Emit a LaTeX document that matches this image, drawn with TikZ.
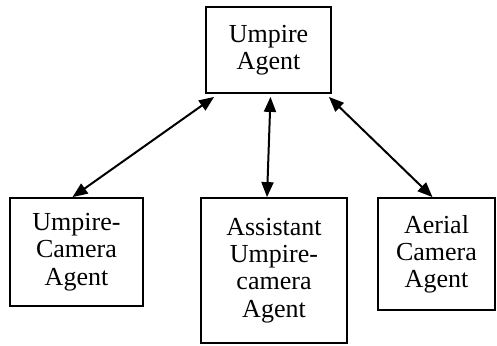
\documentclass[tikz,border=0pt]{standalone}
\usepackage{fontspec}
\setmainfont{Liberation Serif}
\usepackage{tikz}
\usetikzlibrary{arrows.meta,positioning}

\begin{document}
\begin{tikzpicture}[
  x=0.5pt, y=-0.5pt,
  box/.style={draw=black, line width=0.9pt, fill=white, align=center, inner sep=0pt,
    font=\fontsize{13}{13.6}\selectfont},
  arr/.style={{Triangle[length=7.5pt,width=6pt]}-{Triangle[length=7.5pt,width=6pt]}, line width=1pt, black}
]
\useasboundingbox (0,0) rectangle (497,345);
\node[box, minimum width=62.5pt, minimum height=43pt] (umpire) at (268.5,50) {Umpire\\Agent};
\node[box, minimum width=66.5pt, minimum height=54pt] (camera) at (76.5,252) {Umpire-\\Camera\\Agent};
\node[box, minimum width=73pt, minimum height=72.5pt] (assistant) at (274,270.5) {Assistant\\Umpire-\\camera\\Agent};
\node[box, minimum width=58.5pt, minimum height=56pt] (aerial) at (436.5,254) {Aerial\\Camera\\Agent};

\draw[arr] ([xshift=4.5pt,yshift=-1.5pt]umpire.south west) -- ([xshift=-2pt]camera.north);
\draw[arr] ([xshift=1pt,yshift=-1.5pt]umpire.south) -- ([xshift=-3.5pt]assistant.north);
\draw[arr] ([xshift=-1.5pt,yshift=-1.5pt]umpire.south east) -- ([xshift=-2pt]aerial.north);
\end{tikzpicture}
\end{document}
